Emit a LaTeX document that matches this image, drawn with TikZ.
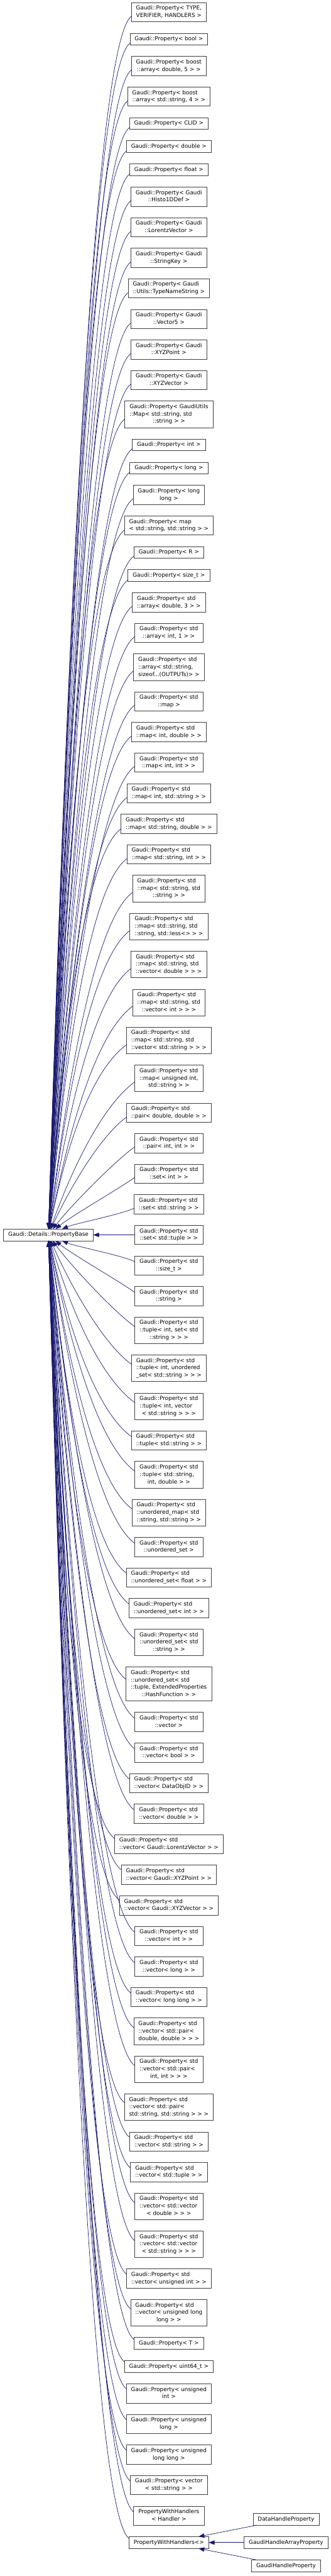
\documentclass[tikz,border=0pt]{standalone}
\usepackage{fontspec}
\setmainfont{DejaVu Sans}
\usepackage{tikz}
\usetikzlibrary{arrows.meta, positioning, calc}
\definecolor{DXnavy}{HTML}{191970}
\definecolor{DXframe}{HTML}{404040}
\newcommand{\dxfont}{\fontsize{9.6pt}{12.75pt}\selectfont}
\newcommand{\plab}[2]{\begin{tabular}{@{}l@{}}#1\\\multicolumn{1}{@{}c@{}}{#2}\end{tabular}}
\newcommand{\pone}[1]{\begin{tabular}{@{}c@{}}#1\end{tabular}}
\tikzset{
  pbox/.style={rectangle, draw=DXframe, line width=0.75pt, fill=white, text=black,
    inner xsep=8.2pt, inner ysep=3.75pt, outer sep=0pt, font=\dxfont},
  inh/.style={-{Triangle[length=10pt,width=7.5pt]}, line width=0.75pt, draw=DXnavy},
}
\begin{document}
\begin{tikzpicture}
  \useasboundingbox (0,0) rectangle (570.75pt,-4441.5pt);
  %% Derived classes, one column
  \node[pbox, anchor=north] (p1) at (291.5pt,-4.65pt) {\plab{Gaudi::Property< TYPE,}{VERIFIER, HANDLERS >}};
  \node[pbox, below=19.7pt of p1] (p2) {\pone{Gaudi::Property< bool >}};
  \node[pbox, below=19.7pt of p2] (p3) {\plab{Gaudi::Property< boost}{::array< double, 5 > >}};
  \node[pbox, below=19.7pt of p3] (p4) {\plab{Gaudi::Property< boost}{::array< std::string, 4 > >}};
  \node[pbox, below=19.7pt of p4] (p5) {\pone{Gaudi::Property< CLID >}};
  \node[pbox, below=19.7pt of p5] (p6) {\pone{Gaudi::Property< double >}};
  \node[pbox, below=19.7pt of p6] (p7) {\pone{Gaudi::Property< float >}};
  \node[pbox, below=19.7pt of p7] (p8) {\plab{Gaudi::Property< Gaudi}{::Histo1DDef >}};
  \node[pbox, below=19.7pt of p8] (p9) {\plab{Gaudi::Property< Gaudi}{::LorentzVector >}};
  \node[pbox, below=19.7pt of p9] (p10) {\plab{Gaudi::Property< Gaudi}{::StringKey >}};
  \node[pbox, below=19.7pt of p10] (p11) {\plab{Gaudi::Property< Gaudi}{::Utils::TypeNameString >}};
  \node[pbox, below=19.7pt of p11] (p12) {\plab{Gaudi::Property< Gaudi}{::Vector5 >}};
  \node[pbox, below=19.7pt of p12] (p13) {\plab{Gaudi::Property< Gaudi}{::XYZPoint >}};
  \node[pbox, below=19.7pt of p13] (p14) {\plab{Gaudi::Property< Gaudi}{::XYZVector >}};
  \node[pbox, below=19.7pt of p14] (p15) {\plab{Gaudi::Property< GaudiUtils\\::Map< std::string, std}{::string > >}};
  \node[pbox, below=19.7pt of p15] (p16) {\pone{Gaudi::Property< int >}};
  \node[pbox, below=19.7pt of p16] (p17) {\pone{Gaudi::Property< long >}};
  \node[pbox, below=19.7pt of p17] (p18) {\plab{Gaudi::Property< long}{long >}};
  \node[pbox, below=19.7pt of p18] (p19) {\plab{Gaudi::Property< map}{< std::string, std::string > >}};
  \node[pbox, below=19.7pt of p19] (p20) {\pone{Gaudi::Property< R >}};
  \node[pbox, below=19.7pt of p20] (p21) {\pone{Gaudi::Property< size\_t >}};
  \node[pbox, below=19.7pt of p21] (p22) {\plab{Gaudi::Property< std}{::array< double, 3 > >}};
  \node[pbox, below=19.7pt of p22] (p23) {\plab{Gaudi::Property< std}{::array< int, 1 > >}};
  \node[pbox, below=19.7pt of p23] (p24) {\plab{Gaudi::Property< std\\::array< std::string,}{sizeof...(OUTPUTs)> >}};
  \node[pbox, below=19.7pt of p24] (p25) {\plab{Gaudi::Property< std}{::map >}};
  \node[pbox, below=19.7pt of p25] (p26) {\plab{Gaudi::Property< std}{::map< int, double > >}};
  \node[pbox, below=19.7pt of p26] (p27) {\plab{Gaudi::Property< std}{::map< int, int > >}};
  \node[pbox, below=19.7pt of p27] (p28) {\plab{Gaudi::Property< std}{::map< int, std::string > >}};
  \node[pbox, below=19.7pt of p28] (p29) {\plab{Gaudi::Property< std}{::map< std::string, double > >}};
  \node[pbox, below=19.7pt of p29] (p30) {\plab{Gaudi::Property< std}{::map< std::string, int > >}};
  \node[pbox, below=19.7pt of p30] (p31) {\plab{Gaudi::Property< std\\::map< std::string, std}{::string > >}};
  \node[pbox, below=19.7pt of p31] (p32) {\plab{Gaudi::Property< std\\::map< std::string, std}{::string, std::less<> > >}};
  \node[pbox, below=19.7pt of p32] (p33) {\plab{Gaudi::Property< std\\::map< std::string, std}{::vector< double > > >}};
  \node[pbox, below=19.7pt of p33] (p34) {\plab{Gaudi::Property< std\\::map< std::string, std}{::vector< int > > >}};
  \node[pbox, below=19.7pt of p34] (p35) {\plab{Gaudi::Property< std\\::map< std::string, std}{::vector< std::string > > >}};
  \node[pbox, below=19.7pt of p35] (p36) {\plab{Gaudi::Property< std\\::map< unsigned int,}{std::string > >}};
  \node[pbox, below=19.7pt of p36] (p37) {\plab{Gaudi::Property< std}{::pair< double, double > >}};
  \node[pbox, below=19.7pt of p37] (p38) {\plab{Gaudi::Property< std}{::pair< int, int > >}};
  \node[pbox, below=19.7pt of p38] (p39) {\plab{Gaudi::Property< std}{::set< int > >}};
  \node[pbox, below=19.7pt of p39] (p40) {\plab{Gaudi::Property< std}{::set< std::string > >}};
  \node[pbox, below=19.7pt of p40] (p41) {\plab{Gaudi::Property< std}{::set< std::tuple > >}};
  \node[pbox, below=19.7pt of p41] (p42) {\plab{Gaudi::Property< std}{::size\_t >}};
  \node[pbox, below=19.7pt of p42] (p43) {\plab{Gaudi::Property< std}{::string >}};
  \node[pbox, below=19.7pt of p43] (p44) {\plab{Gaudi::Property< std\\::tuple< int, set< std}{::string > > >}};
  \node[pbox, below=19.7pt of p44] (p45) {\plab{Gaudi::Property< std\\::tuple< int, unordered}{\_set< std::string > > >}};
  \node[pbox, below=19.7pt of p45] (p46) {\plab{Gaudi::Property< std\\::tuple< int, vector}{< std::string > > >}};
  \node[pbox, below=19.7pt of p46] (p47) {\plab{Gaudi::Property< std}{::tuple< std::string > >}};
  \node[pbox, below=19.7pt of p47] (p48) {\plab{Gaudi::Property< std\\::tuple< std::string,}{int, double > >}};
  \node[pbox, below=19.7pt of p48] (p49) {\plab{Gaudi::Property< std\\::unordered\_map< std}{::string, std::string > >}};
  \node[pbox, below=19.7pt of p49] (p50) {\plab{Gaudi::Property< std}{::unordered\_set >}};
  \node[pbox, below=19.7pt of p50] (p51) {\plab{Gaudi::Property< std}{::unordered\_set< float > >}};
  \node[pbox, below=19.7pt of p51] (p52) {\plab{Gaudi::Property< std}{::unordered\_set< int > >}};
  \node[pbox, below=19.7pt of p52] (p53) {\plab{Gaudi::Property< std\\::unordered\_set< std}{::string > >}};
  \node[pbox, below=19.7pt of p53] (p54) {\plab{Gaudi::Property< std\\::unordered\_set< std\\::tuple, ExtendedProperties}{::HashFunction > >}};
  \node[pbox, below=19.7pt of p54] (p55) {\plab{Gaudi::Property< std}{::vector >}};
  \node[pbox, below=19.7pt of p55] (p56) {\plab{Gaudi::Property< std}{::vector< bool > >}};
  \node[pbox, below=19.7pt of p56] (p57) {\plab{Gaudi::Property< std}{::vector< DataObjID > >}};
  \node[pbox, below=19.7pt of p57] (p58) {\plab{Gaudi::Property< std}{::vector< double > >}};
  \node[pbox, below=19.7pt of p58] (p59) {\plab{Gaudi::Property< std}{::vector< Gaudi::LorentzVector > >}};
  \node[pbox, below=19.7pt of p59] (p60) {\plab{Gaudi::Property< std}{::vector< Gaudi::XYZPoint > >}};
  \node[pbox, below=19.7pt of p60] (p61) {\plab{Gaudi::Property< std}{::vector< Gaudi::XYZVector > >}};
  \node[pbox, below=19.7pt of p61] (p62) {\plab{Gaudi::Property< std}{::vector< int > >}};
  \node[pbox, below=19.7pt of p62] (p63) {\plab{Gaudi::Property< std}{::vector< long > >}};
  \node[pbox, below=19.7pt of p63] (p64) {\plab{Gaudi::Property< std}{::vector< long long > >}};
  \node[pbox, below=19.7pt of p64] (p65) {\plab{Gaudi::Property< std\\::vector< std::pair<}{double, double > > >}};
  \node[pbox, below=19.7pt of p65] (p66) {\plab{Gaudi::Property< std\\::vector< std::pair<}{int, int > > >}};
  \node[pbox, below=19.7pt of p66] (p67) {\plab{Gaudi::Property< std\\::vector< std::pair<}{std::string, std::string > > >}};
  \node[pbox, below=19.7pt of p67] (p68) {\plab{Gaudi::Property< std}{::vector< std::string > >}};
  \node[pbox, below=19.7pt of p68] (p69) {\plab{Gaudi::Property< std}{::vector< std::tuple > >}};
  \node[pbox, below=19.7pt of p69] (p70) {\plab{Gaudi::Property< std\\::vector< std::vector}{< double > > >}};
  \node[pbox, below=19.7pt of p70] (p71) {\plab{Gaudi::Property< std\\::vector< std::vector}{< std::string > > >}};
  \node[pbox, below=19.7pt of p71] (p72) {\plab{Gaudi::Property< std}{::vector< unsigned int > >}};
  \node[pbox, below=19.7pt of p72] (p73) {\plab{Gaudi::Property< std\\::vector< unsigned long}{long > >}};
  \node[pbox, below=19.7pt of p73] (p74) {\pone{Gaudi::Property< T >}};
  \node[pbox, below=19.7pt of p74] (p75) {\pone{Gaudi::Property< uint64\_t >}};
  \node[pbox, below=19.7pt of p75] (p76) {\plab{Gaudi::Property< unsigned}{int >}};
  \node[pbox, below=19.7pt of p76] (p77) {\plab{Gaudi::Property< unsigned}{long >}};
  \node[pbox, below=19.7pt of p77] (p78) {\plab{Gaudi::Property< unsigned}{long long >}};
  \node[pbox, below=19.7pt of p78] (p79) {\plab{Gaudi::Property< vector}{< std::string > >}};
  \node[pbox, below=19.7pt of p79] (p80) {\plab{PropertyWithHandlers}{< Handler >}};
  \node[pbox, below=19.7pt of p80] (p81) {\pone{PropertyWithHandlers<>}};
  %% Base class, level with p41
  \node[pbox, left=71.8pt of p41] (pbase) {\pone{Gaudi::Details::PropertyBase}};
  %% Classes derived from PropertyWithHandlers<>
  \node[pbox, right=61pt of p81] (ghap) {\pone{GaudiHandleArrayProperty}};
  \node[pbox, above=19.7pt of ghap] (dhp) {\pone{DataHandleProperty}};
  \node[pbox, below=19.7pt of ghap] (ghp) {\pone{GaudiHandleProperty}};
  %% Inheritance arrows
  \foreach \i in {1,...,40}
    \draw[inh] let \p1=(p\i.186), \p2=(pbase.center), \n1={min(1,(\y1-\y2)/300)} in
      (\p1) .. controls +(-75pt*\n1,-55pt*\n1) and ($(pbase.north)!0.33!(\x1-75pt*\n1,\y1-55pt*\n1)$) .. (pbase);
  \draw[inh] (p41) -- (pbase);
  \foreach \i in {42,...,81}
    \draw[inh] let \p1=(p\i.174), \p2=(pbase.center), \n1={min(1,(\y2-\y1)/300)} in
      (\p1) .. controls +(-75pt*\n1,55pt*\n1) and ($(pbase.south)!0.33!(\x1-75pt*\n1,\y1+55pt*\n1)$) .. (pbase);
  \draw[inh] (dhp) -- (p81);
  \draw[inh] (ghap) -- (p81);
  \draw[inh] (ghp) -- (p81);
\end{tikzpicture}
\end{document}
